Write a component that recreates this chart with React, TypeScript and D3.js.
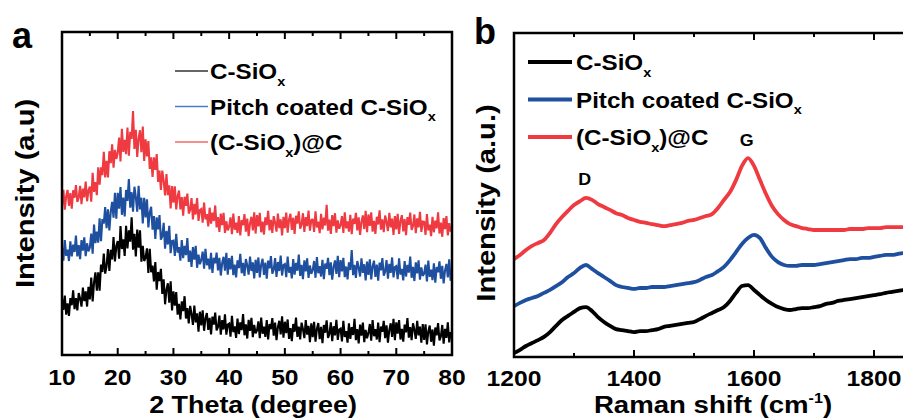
import React from 'react';
import * as d3 from 'd3';

// ---------- DATA ----------
const seriesNames = ['C-SiOx', 'Pitch coated C-SiOx', '(C-SiOx)@C'];
// legend text split as [before subscript, subscript, after]
const legendParts: [string, string, string][] = [
  ['C-SiO', 'x', ''],
  ['Pitch coated C-SiO', 'x', ''],
  ['(C-SiO', 'x', ')@C'],
];
const seriesColors = ['#000000', '#1f4f9f', '#ee3a40'];
const legendColorsA = ['#333333', '#4a7dc9', '#f06a6a'];

// XRD: 2θ from 10 to 80 in 0.25° steps (281 points), one row = 5°
const xrdAngles = d3.range(0, 281).map((i) => 10 + i * 0.25);
const xrdBlack = [
  17.5, 14, 18.4, 12.5, 16, 12.1, 17.6, 15.4, 20, 14.2, 17.6, 13.8, 19.2, 17.5, 15, 20.9, 16.7, 19.7, 15, 21.1,
  17.2, 24.0, 16.6, 22.5, 25.6, 19.9, 25.6, 19.9, 28.0, 25.7, 31.4, 25.2, 27.5, 32.8, 26.0, 32.6, 29.6, 36.5, 29.0, 33.8,
  35.3, 29.8, 39.9, 32.8, 35.8, 30.7, 40.0, 33.0, 38.6, 35.1, 42.6, 32.6, 37.5, 30.5, 38.8, 33.2, 38.6, 28.9, 33.8, 29.1,
  30.1, 33.0, 25.4, 32.9, 25.6, 27.7, 22.8, 28.8, 20.2, 25.7, 22.9, 26.7, 18.9, 23.4, 15.7, 20.2, 22.2, 16.2, 22.8, 13.8,
  19.7, 15.3, 19.5, 12.5, 15.8, 11.0, 16.6, 13.6, 18.2, 11.3, 14.5, 9.8, 15.2, 12.7, 9.3, 15.3, 10.1, 12.9, 7.2, 13.4,
  9.2, 13.8, 7.5, 11.3, 13.0, 7.8, 11.5, 6.4, 11.9, 9.4, 13.1, 7.6, 8.7, 12.2, 6.3, 10.8, 7.9, 12.6, 6.3, 9.4,
  9.7, 5.7, 12.1, 7.1, 8.9, 5.3, 11.3, 6.5, 10.1, 7.7, 12.7, 6.1, 9.5, 5.1, 10.9, 7.5, 11.5, 5.5, 9.3, 6.7,
  7.6, 10.4, 5.2, 11.6, 6.6, 8.8, 5.6, 10.8, 4.8, 9.6, 8.0, 11.4, 6.0, 10.0, 4.6, 8.6, 10.6, 6.4, 12.0, 5.4,
  10.3, 6.8, 11.0, 5.0, 8.3, 4.3, 9.6, 7.2, 11.6, 5.6, 8.8, 4.8, 10.0, 8.0, 5.2, 10.8, 6.3, 9.0, 4.0, 9.8,
  5.5, 10.3, 4.1, 8.1, 9.9, 4.9, 8.7, 3.7, 9.3, 6.9, 10.7, 5.3, 6.5, 10.1, 4.3, 8.9, 6.1, 10.9, 4.7, 7.9,
  8.2, 4.2, 10.6, 5.6, 7.4, 3.8, 9.8, 5.0, 8.6, 6.2, 11.2, 4.6, 8.0, 3.6, 9.4, 6.0, 10.0, 4.0, 7.8, 5.2,
  6.8, 9.6, 4.4, 10.8, 5.8, 8.0, 4.8, 10.0, 4.0, 8.8, 7.2, 10.6, 5.2, 9.2, 3.8, 7.8, 9.8, 5.6, 11.2, 4.6,
  10.1, 6.6, 10.8, 4.8, 8.1, 4.1, 9.4, 7.0, 11.4, 5.4, 8.6, 4.6, 9.8, 7.8, 5.0, 10.6, 6.1, 8.8, 3.8, 9.6,
  4.7, 9.5, 3.3, 7.3, 9.1, 4.1, 7.9, 2.9, 8.5, 6.1, 9.9, 4.5, 5.7, 9.3, 3.5, 8.1, 5.3, 10.1, 3.9, 7.1,
  6.0,
];
const xrdBlue = [
  33.1, 29.2, 35.6, 30.7, 32.6, 29.1, 35.2, 30.5, 34.2, 31.9, 37.0, 30.5, 34.0, 29.7, 35.6, 32.3, 36.4, 30.6, 34.6, 32.1,
  33.3, 37.6, 31.4, 40.4, 34.6, 38.2, 34.8, 42.3, 35.2, 42.1, 40.7, 45.8, 39.3, 45.1, 38.6, 44.3, 47.4, 42.5, 50.2, 42.2,
  50.2, 45.3, 52.0, 43.4, 48.7, 42.9, 51.1, 47.7, 54.5, 45.6, 50.4, 44.4, 52.1, 48.9, 44.4, 52.4, 45.1, 48.7, 40.7, 48.7,
  42.6, 48.2, 39.5, 44.1, 45.9, 38.8, 43.0, 35.9, 42.6, 38.9, 43.3, 35.7, 36.8, 40.9, 32.9, 38.4, 34.2, 40.0, 31.5, 35.3,
  35.4, 30.7, 37.5, 31.7, 33.4, 29.2, 35.6, 30.0, 33.8, 30.9, 36.2, 28.8, 32.3, 27.3, 33.4, 29.5, 33.8, 27.0, 31.1, 28.1,
  29.4, 32.0, 26.7, 32.9, 27.8, 29.8, 26.5, 31.6, 25.4, 30.1, 28.4, 31.7, 26.2, 30.1, 24.6, 28.5, 30.4, 26.1, 31.6, 24.9,
  30.0, 26.5, 30.7, 24.7, 28.0, 24.0, 29.3, 26.9, 31.3, 25.3, 28.5, 24.5, 29.7, 27.7, 24.9, 30.5, 26.0, 28.7, 23.7, 29.5,
  25.4, 30.2, 24.0, 28.0, 29.8, 24.8, 28.6, 23.6, 29.2, 26.8, 30.6, 25.2, 26.4, 30.0, 24.2, 28.8, 26.0, 30.8, 24.6, 27.8,
  28.1, 24.1, 30.5, 25.5, 27.3, 23.7, 29.7, 24.9, 28.5, 26.1, 31.1, 24.5, 27.9, 23.5, 29.3, 25.9, 29.9, 23.9, 27.7, 25.1,
  26.3, 29.1, 23.9, 30.3, 25.3, 27.5, 24.3, 29.5, 23.5, 28.3, 26.7, 30.1, 24.7, 28.7, 23.3, 27.3, 29.3, 25.1, 30.7, 24.1,
  29.4, 25.9, 30.1, 24.1, 27.4, 23.4, 28.7, 26.3, 32.5, 24.7, 27.9, 23.9, 29.1, 27.1, 24.3, 29.9, 25.4, 28.1, 23.1, 28.9,
  24.8, 29.6, 23.4, 27.4, 29.2, 24.2, 28.0, 23.0, 28.6, 26.2, 30.0, 24.6, 25.8, 29.4, 23.6, 28.2, 25.4, 30.2, 24.0, 27.2,
  27.5, 23.5, 29.9, 24.9, 26.7, 23.1, 29.1, 24.3, 27.9, 25.5, 30.5, 23.9, 27.3, 22.9, 28.7, 25.3, 29.3, 23.3, 27.1, 24.5,
  25.2, 28.0, 22.8, 29.2, 24.2, 26.4, 23.2, 28.4, 22.4, 27.2, 25.6, 29.0, 23.6, 27.6, 22.2, 26.2, 28.2, 24.0, 29.6, 23.0,
  25.4,
];
const xrdRed = [
  46.2, 51.1, 45.0, 49.2, 51.1, 46.2, 50.1, 45.3, 51.0, 48.7, 52.6, 47.4, 48.7, 52.4, 46.7, 51.5, 48.8, 53.7, 47.6, 51.0,
  52.1, 47.5, 56.4, 50.5, 53.5, 49.5, 58.1, 52.7, 58.1, 55.7, 62.9, 55.0, 60.1, 55.0, 63.1, 59.4, 65.2, 58.0, 63.5, 60.7,
  62.6, 67.3, 59.9, 70.0, 62.9, 66.6, 62.2, 70.4, 61.7, 69.1, 66.9, 75.5, 63.8, 69.7, 61.3, 67.0, 69.6, 62.8, 70.7, 60.1,
  66.8, 61.5, 66.2, 57.6, 61.2, 55.1, 61.2, 57.3, 62.2, 53.6, 57.1, 51.1, 57.1, 53.8, 49.4, 56.0, 49.5, 52.5, 45.4, 52.3,
  47.2, 52.2, 45.1, 49.2, 50.9, 45.1, 48.9, 43.1, 49.0, 46.2, 50.0, 43.8, 44.9, 48.6, 42.0, 46.8, 43.5, 48.6, 41.5, 44.9,
  45.2, 41.0, 47.2, 42.0, 43.6, 39.8, 45.6, 40.7, 44.1, 41.5, 46.3, 39.5, 42.7, 38.1, 43.8, 40.2, 44.0, 37.8, 41.4, 38.6,
  39.8, 42.6, 37.4, 43.8, 38.8, 41.0, 37.8, 43.0, 37.0, 41.8, 40.2, 43.6, 38.2, 42.2, 36.8, 40.8, 42.8, 38.6, 44.2, 37.6,
  43.3, 39.8, 44.0, 38.0, 41.3, 37.3, 42.6, 40.2, 44.6, 38.6, 41.8, 37.8, 43.0, 41.0, 38.2, 43.8, 39.3, 42.0, 37.0, 42.8,
  39.3, 44.1, 37.9, 41.9, 43.7, 38.7, 42.5, 37.5, 43.1, 40.7, 44.5, 39.1, 40.3, 43.9, 38.1, 42.7, 39.9, 44.7, 38.5, 41.7,
  42.1, 38.1, 44.5, 39.5, 41.3, 37.7, 43.7, 38.9, 42.5, 40.1, 46.5, 38.5, 41.9, 37.5, 43.3, 39.9, 43.9, 37.9, 41.7, 39.1,
  40.2, 43.0, 37.8, 44.2, 39.2, 41.4, 38.2, 43.4, 37.4, 42.2, 40.6, 44.0, 38.6, 42.6, 37.2, 41.2, 43.2, 39.0, 44.6, 38.0,
  43.5, 40.0, 44.2, 38.2, 41.5, 37.5, 42.8, 40.4, 44.8, 38.8, 42.0, 38.0, 43.2, 41.2, 38.4, 44.0, 39.5, 42.2, 37.2, 43.0,
  38.9, 43.7, 37.5, 41.5, 43.3, 38.3, 42.1, 37.1, 42.7, 40.3, 44.1, 38.7, 39.9, 43.5, 37.7, 42.3, 39.5, 44.3, 38.1, 41.3,
  41.2, 37.2, 43.6, 38.6, 40.4, 36.8, 42.8, 38.0, 41.6, 39.2, 44.2, 37.6, 41.0, 36.6, 42.4, 39.0, 43.0, 37.0, 40.8, 38.2,
  39.5,
];

// Raman: 1200 to 1850 cm-1 in 10 cm-1 steps (66 points)
const ramanShifts = d3.range(0, 66).map((i) => 1200 + i * 10);
const ramanBlack = [
  1.2, 2.2, 3.4, 4.3, 5.2, 6.2, 7.7, 9.6, 11.4, 12.7,
  13.9, 15.1, 15.4, 14.2, 12.3, 10.8, 9.6, 8.6, 8.3, 8.0,
  7.7, 8.0, 8.0, 8.3, 8.6, 9.3, 9.6, 9.9, 10.2, 10.5,
  10.8, 11.7, 12.7, 13.6, 14.5, 15.4, 17.3, 19.8, 21.9, 22.2,
  20.7, 19.1, 17.6, 16.4, 15.4, 14.8, 14.5, 14.8, 15.1, 15.1,
  15.4, 15.7, 16.4, 16.7, 17.3, 17.6, 17.9, 18.2, 18.5, 18.8,
  19.1, 19.4, 19.8, 20.1, 20.4, 20.7,
];
const ramanBlue = [
  15.7, 16.7, 17.6, 18.2, 18.8, 19.8, 20.7, 21.9, 23.1, 24.7,
  25.9, 27.5, 28.4, 27.2, 25.9, 24.7, 23.5, 22.2, 21.6, 21.3,
  21.0, 21.3, 21.3, 21.6, 21.6, 21.6, 21.9, 22.2, 22.5, 22.8,
  23.1, 23.8, 24.7, 25.3, 26.5, 27.8, 29.9, 32.4, 34.9, 36.7,
  37.7, 36.7, 33.6, 30.9, 29.3, 28.4, 28.1, 28.1, 28.4, 28.4,
  28.4, 28.7, 29.0, 29.3, 29.6, 29.9, 30.2, 30.2, 30.6, 30.6,
  30.9, 31.2, 31.5, 31.5, 31.8, 32.1,
];
const ramanRed = [
  30.2, 31.5, 33.0, 34.3, 35.2, 36.1, 38.3, 41.0, 43.2, 45.1,
  46.9, 48.1, 49.1, 48.5, 47.2, 46.3, 45.4, 44.4, 43.8, 42.9,
  42.3, 41.7, 41.4, 41.0, 40.7, 40.4, 40.7, 41.0, 41.4, 42.0,
  42.3, 42.9, 43.5, 44.1, 46.0, 48.5, 50.9, 54.6, 59.0, 61.4,
  59.0, 54.6, 50.3, 46.6, 44.1, 42.3, 41.0, 40.4, 39.8, 39.5,
  39.2, 39.2, 39.2, 39.2, 39.2, 39.2, 39.5, 39.5, 39.5, 39.8,
  39.8, 39.8, 40.1, 40.1, 40.1, 40.1,
];

const xrdMajorTicks = [10, 20, 30, 40, 50, 60, 70, 80];
const xrdMinorTicks = [15, 25, 35, 45, 55, 65, 75];
const ramanMajorTicks = [1200, 1400, 1600, 1800];
const ramanMinorTicks = [1300, 1500, 1700];
const peakLabels = [
  { name: 'D', shift: 1318, value: 53 },
  { name: 'G', shift: 1588, value: 65 },
];

// ---------- HELPERS ----------
const FONT = "Arial, 'Liberation Sans', Helvetica, sans-serif";

function SText(props: {
  x: number; y: number; size: number; sx?: number; anchor?: string; rotate?: number; children: any; fill?: string;
}) {
  const { x, y, size, sx = 1, anchor = 'start', rotate = 0, children, fill = '#000' } = props;
  return (
    <g transform={`translate(${x},${y}) rotate(${rotate}) scale(${sx},1)`}>
      <text fontSize={size} fontWeight="bold" textAnchor={anchor as any} fontFamily={FONT} fill={fill}>
        {children}
      </text>
    </g>
  );
}

function SubLabel({ parts, size }: { parts: [string, string, string]; size: number }) {
  return (
    <>
      {parts[0]}
      <tspan fontSize={size * 0.6} dy={size * 0.3}>{parts[1]}</tspan>
      {parts[2] ? <tspan dy={-size * 0.3}>{parts[2]}</tspan> : null}
    </>
  );
}

export default function App() {
  const a = { l: 62, r: 452, t: 32, b: 355 };
  const b = { l: 514, r: 904, t: 33, b: 357 };

  const xA = d3.scaleLinear().domain([10, 80]).range([a.l, a.r]);
  const yA = d3.scaleLinear().domain([0, 100]).range([a.b, a.t]);
  const xB = d3.scaleLinear().domain([1200, 1850]).range([b.l, b.r]);
  const yB = d3.scaleLinear().domain([0, 100]).range([b.b, b.t]);

  const xrdSeries = [xrdBlack, xrdBlue, xrdRed];
  const ramanSeries = [ramanBlack, ramanBlue, ramanRed];

  const lineA = d3
    .line<number>()
    .x((_, i) => xA(xrdAngles[i]))
    .y((d) => yA(d));
  const lineB = d3
    .line<number>()
    .x((_, i) => xB(ramanShifts[i]))
    .y((d) => yB(d))
    .curve(d3.curveMonotoneX);

  const tickSize = 22;
  const tickSx = 1.12;

  return (
    <svg
      width={903}
      height={420}
      style={{ position: 'absolute', left: 0, top: 0, background: '#fff' }}
    >
      <defs>
        <clipPath id="clipA">
          <rect x={a.l} y={a.t} width={a.r - a.l} height={a.b - a.t} />
        </clipPath>
        <clipPath id="clipB">
          <rect x={b.l} y={b.t} width={b.r - b.l} height={b.b - b.t} />
        </clipPath>
      </defs>

      {/* ---------------- Panel a ---------------- */}
      <SText x={12} y={48} size={36}>a</SText>
      <g clipPath="url(#clipA)">
        {xrdSeries
          .map((s, i) => ({ s, i }))
          .reverse()
          .map(({ s, i }) => (
            <path key={i} d={lineA(s) || ''} fill="none" stroke={seriesColors[i]} strokeWidth={2.1} strokeLinejoin="miter" strokeMiterlimit={2} />
          ))}
      </g>
      {xrdMajorTicks.map((v) => (
        <g key={'am' + v}>
          <line x1={xA(v)} x2={xA(v)} y1={a.b} y2={a.b - 7} stroke="#000" strokeWidth={2} />
          <line x1={xA(v)} x2={xA(v)} y1={a.t} y2={a.t + 7} stroke="#000" strokeWidth={2} />
          <SText x={xA(v)} y={385} size={tickSize} sx={tickSx} anchor="middle">{String(v)}</SText>
        </g>
      ))}
      {xrdMinorTicks.map((v) => (
        <g key={'an' + v}>
          <line x1={xA(v)} x2={xA(v)} y1={a.b} y2={a.b - 4} stroke="#000" strokeWidth={2} />
          <line x1={xA(v)} x2={xA(v)} y1={a.t} y2={a.t + 4} stroke="#000" strokeWidth={2} />
        </g>
      ))}
      <rect x={a.l} y={a.t} width={a.r - a.l} height={a.b - a.t} fill="none" stroke="#000" strokeWidth={2.5} />
      <SText x={(a.l + a.r) / 2 - 4} y={413} size={23} sx={1.17} anchor="middle">2 Theta (degree)</SText>
      <SText x={34} y={(a.t + a.b) / 2} size={26} sx={1.12} anchor="middle" rotate={-90}>Intensity (a.u)</SText>
      {legendParts.map((p, i) => (
        <g key={'la' + i}>
          <line x1={175} x2={208} y1={71 + i * 35.5} y2={71 + i * 35.5} stroke={legendColorsA[i]} strokeWidth={1.3} />
          <SText x={210} y={79 + i * 35.5} size={22} sx={1.1}>
            <SubLabel parts={p} size={22} />
          </SText>
        </g>
      ))}

      {/* ---------------- Panel b ---------------- */}
      <SText x={474} y={44} size={36}>b</SText>
      <g clipPath="url(#clipB)">
        {ramanSeries.map((s, i) => (
          <path key={i} d={lineB(s) || ''} fill="none" stroke={seriesColors[i]} strokeWidth={3.8} strokeLinejoin="round" />
        ))}
      </g>
      {ramanMajorTicks.map((v) => (
        <g key={'bm' + v}>
          <line x1={xB(v)} x2={xB(v)} y1={b.b} y2={b.b - 7} stroke="#000" strokeWidth={2} />
          <line x1={xB(v)} x2={xB(v)} y1={b.t} y2={b.t + 7} stroke="#000" strokeWidth={2} />
          <SText x={xB(v)} y={386} size={tickSize} sx={tickSx} anchor="middle">{String(v)}</SText>
        </g>
      ))}
      {ramanMinorTicks.map((v) => (
        <g key={'bn' + v}>
          <line x1={xB(v)} x2={xB(v)} y1={b.b} y2={b.b - 4} stroke="#000" strokeWidth={2} />
          <line x1={xB(v)} x2={xB(v)} y1={b.t} y2={b.t + 4} stroke="#000" strokeWidth={2} />
        </g>
      ))}
      <path d={`M${b.r + 5},${b.t} H${b.l} V${b.b} H${b.r + 5}`} fill="none" stroke="#000" strokeWidth={2.5} />
      <SText x={713} y={413} size={24} sx={1.15} anchor="middle">
        Raman shift (cm<tspan fontSize={14} dy={-10}>-1</tspan><tspan dy={10}>)</tspan>
      </SText>
      <SText x={495} y={(b.t + b.b) / 2 + 8} size={26} sx={1.12} anchor="middle" rotate={-90}>Intensity (a.u.)</SText>
      {peakLabels.map((p) => (
        <SText key={p.name} x={xB(p.shift)} y={yB(p.value)} size={17} sx={1.05} anchor="middle">{p.name}</SText>
      ))}
      {legendParts.map((p, i) => (
        <g key={'lb' + i}>
          <line x1={528} x2={572} y1={62 + i * 37.5} y2={62 + i * 37.5} stroke={seriesColors[i]} strokeWidth={4} />
          <SText x={576} y={70 + i * 37.5} size={22} sx={1.1}>
            <SubLabel parts={p} size={22} />
          </SText>
        </g>
      ))}
      <title>{seriesNames.join(', ')}</title>
    </svg>
  );
}
